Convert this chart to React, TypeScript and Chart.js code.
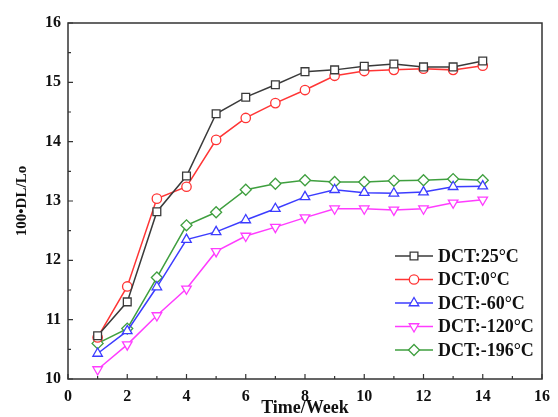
import React, { useEffect, useRef } from "react";
import { Chart, registerables } from "chart.js";
import { drawPoint } from "chart.js/helpers";

Chart.register(...registerables);

const weeks = [1, 2, 3, 4, 5, 6, 7, 8, 9, 10, 11, 12, 13, 14];
const dct25 = [10.73, 11.3, 12.82, 13.42, 14.47, 14.75, 14.96, 15.18, 15.21, 15.27, 15.31, 15.26, 15.26, 15.36];
const dct0 = [10.7, 11.56, 13.04, 13.24, 14.03, 14.4, 14.65, 14.87, 15.11, 15.19, 15.21, 15.23, 15.21, 15.28];
const dctM60 = [10.43, 10.81, 11.55, 12.35, 12.48, 12.68, 12.87, 13.07, 13.19, 13.14, 13.13, 13.15, 13.24, 13.25];
const dctM120 = [10.16, 10.58, 11.07, 11.52, 12.15, 12.41, 12.56, 12.72, 12.87, 12.87, 12.85, 12.87, 12.97, 13.02];
const dctM196 = [10.6, 10.85, 11.71, 12.59, 12.81, 13.19, 13.29, 13.35, 13.32, 13.32, 13.34, 13.35, 13.37, 13.35];
const seriesLabels = ["DCT:25°C", "DCT:0°C", "DCT:-60°C", "DCT:-120°C", "DCT:-196°C"];
const xTickValues = [0, 2, 4, 6, 8, 10, 12, 14, 16];
const yTickValues = [10, 11, 12, 13, 14, 15, 16];

const colors = ["#3a3a3a", "#ff3535", "#3c3cff", "#ff3cff", "#3f9f3f"];
const styles: any[] = ["rect", "circle", "triangle", "triangle", "rectRot"];
const rotations = [0, 0, 0, 180, 0];
const radii = [5.5, 4.7, 5.5, 5.5, 5.5];

const FONT = "'Liberation Serif', 'Times New Roman', serif";

const framePlugin = {
  id: "frame",
  afterDatasetsDraw(chart: any) {
    const { ctx, chartArea: a, scales } = chart;
    ctx.save();
    ctx.strokeStyle = "#333";
    ctx.lineWidth = 1.5;
    ctx.strokeRect(a.left, a.top, a.right - a.left, a.bottom - a.top);
    ctx.lineWidth = 1.2;
    ctx.beginPath();
    for (let v = 0; v <= 16; v += 1) {
      const px = scales.x.getPixelForValue(v);
      const len = v % 2 === 0 ? 5 : 3;
      ctx.moveTo(px, a.bottom);
      ctx.lineTo(px, a.bottom - len);
    }
    for (let v = 10; v <= 16; v += 0.5) {
      const py = scales.y.getPixelForValue(v);
      const len = Number.isInteger(v) ? 5 : 3;
      ctx.moveTo(a.left, py);
      ctx.lineTo(a.left + len, py);
    }
    ctx.stroke();

    // legend
    const x0 = 395, x1 = 433, tx = 438;
    chart.data.datasets.forEach((ds: any, i: number) => {
      const y = 256 + i * 23.5;
      ctx.strokeStyle = ds.borderColor;
      ctx.lineWidth = 1.5;
      ctx.beginPath();
      ctx.moveTo(x0, y);
      ctx.lineTo(x1, y);
      ctx.stroke();
      ctx.fillStyle = "#fff";
      ctx.strokeStyle = ds.borderColor;
      ctx.lineWidth = 1.3;
      drawPoint(ctx, { pointStyle: ds.pointStyle, rotation: ds.pointRotation, radius: ds.pointRadius, borderWidth: 1.3 } as any, (x0 + x1) / 2, y);
      ctx.fillStyle = "#111";
      ctx.font = `bold 18px ${FONT}`;
      ctx.textAlign = "left";
      ctx.textBaseline = "middle";
      ctx.fillText(ds.label, tx, y + 1);
    });
    ctx.restore();
  },
};

export default function App() {
  const ref = useRef<HTMLCanvasElement>(null);
  useEffect(() => {
    document.body.style.margin = "0";
    const series = [dct25, dct0, dctM60, dctM120, dctM196];
    const chart = new Chart(ref.current!, {
      type: "line",
      data: {
        datasets: series.map((s, i) => ({
          label: seriesLabels[i],
          data: s.map((v, j) => ({ x: weeks[j], y: v })),
          borderColor: colors[i],
          backgroundColor: "#fff",
          pointBackgroundColor: "#fff",
          pointBorderColor: colors[i],
          pointStyle: styles[i],
          pointRotation: rotations[i],
          pointRadius: radii[i],
          pointBorderWidth: 1.3,
          borderWidth: 1.5,
          tension: 0,
        })),
      },
      options: {
        responsive: false,
        animation: false,
        layout: { padding: { top: 23, right: 8, left: 0, bottom: 0 } },
        plugins: { legend: { display: false }, tooltip: { enabled: false } },
        scales: {
          x: {
            type: "linear",
            min: 0,
            max: 16,
            afterFit: (s: any) => { s.height = 38; },
            afterBuildTicks: (s: any) => { s.ticks = xTickValues.map((v) => ({ value: v })); },
            grid: { display: false, drawTicks: false },
            border: { display: false },
            ticks: { color: "#111", padding: 8, font: { family: FONT, size: 16, weight: "bold" }, maxRotation: 0, autoSkip: false },
            title: { display: true, text: "Time/Week", color: "#111", padding: { top: 0, bottom: 0 }, font: { family: FONT, size: 18, weight: "bold", lineHeight: 1 } },
          },
          y: {
            type: "linear",
            min: 10,
            max: 16,
            afterFit: (s: any) => { s.width = 68; },
            afterBuildTicks: (s: any) => { s.ticks = yTickValues.map((v) => ({ value: v })); },
            grid: { display: false, drawTicks: false },
            border: { display: false },
            ticks: { color: "#111", padding: 7, font: { family: FONT, size: 16, weight: "bold" }, autoSkip: false },
            title: { display: true, text: "100•DL/Lo", color: "#111", padding: { top: 15, bottom: 0 }, font: { family: FONT, size: 15, weight: "bold", lineHeight: 1 } },
          },
        },
      },
      plugins: [framePlugin],
    } as any);
    return () => chart.destroy();
  }, []);
  return <canvas ref={ref} width={558} height={417} style={{ display: "block" }} />;
}
